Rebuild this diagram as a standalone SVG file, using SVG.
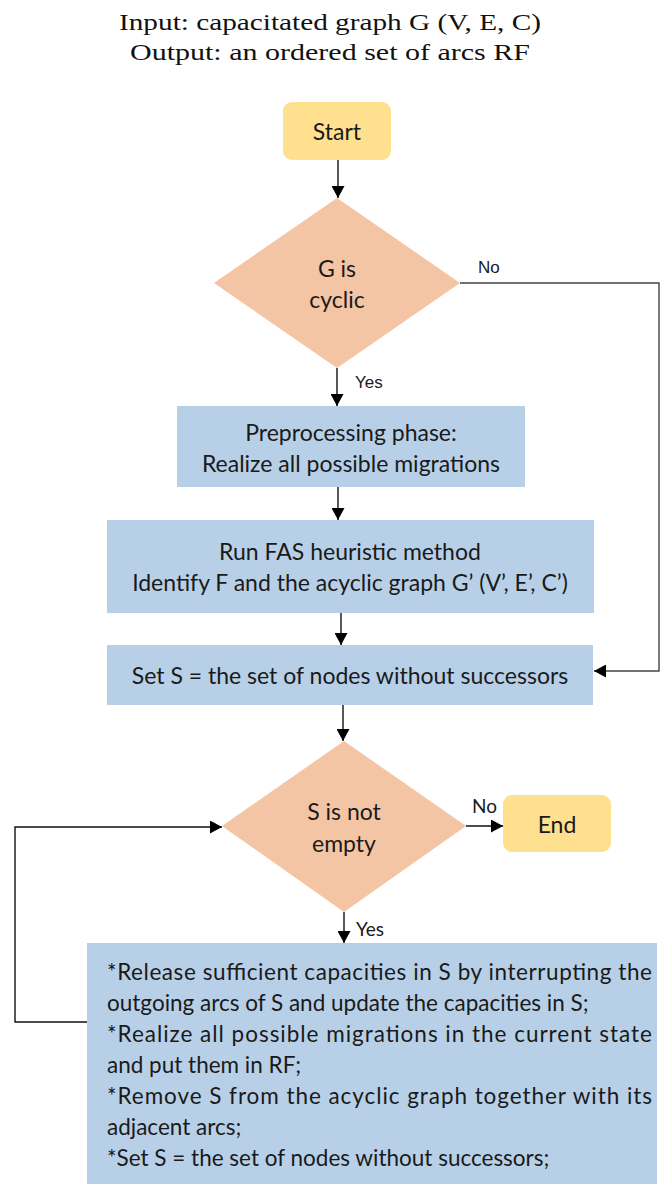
<svg xmlns="http://www.w3.org/2000/svg" width="664" height="1184" viewBox="0 0 664 1184">
<style>
.title{font-family:"Liberation Serif",serif;font-size:24px;fill:#111;text-anchor:middle}
.t{font-family:Lato,"Liberation Sans",sans-serif;font-size:23px;fill:#1a1a1a;text-anchor:middle}
.tl{font-family:Lato,"Liberation Sans",sans-serif;font-size:22.5px;fill:#1a1a1a}
.lbl{font-family:"Liberation Sans",Arial,sans-serif;font-size:17px;fill:#1a1a1a}
.lbl2{font-family:Lato,"Liberation Sans",sans-serif;font-size:19px;fill:#1a1a1a}
.term{fill:#FEE08F}
.dec{fill:#F4C5A4}
.proc{fill:#B7D0E8}
.c{fill:none;stroke:#111;stroke-width:1.4}
.cg{fill:none;stroke:#444;stroke-width:1.4}
</style>
<defs>
<marker id="ah" markerUnits="userSpaceOnUse" markerWidth="13" markerHeight="13" refX="12" refY="6.5" orient="auto">
<path d="M0,0 L12,6.5 L0,13 z" fill="#000"/>
</marker>
</defs>
<g id="title">
<text class="title" x="330" y="30" textLength="422" lengthAdjust="spacingAndGlyphs">Input: capacitated graph G (V, E, C)</text>
<text class="title" x="330" y="60" textLength="400" lengthAdjust="spacingAndGlyphs">Output: an ordered set of arcs RF</text>
</g>
<g id="start">
<rect class="term" x="283" y="102" width="108" height="58" rx="9"/>
<text class="t" x="337" y="140">Start</text>
</g>
<g id="d1">
<polygon class="dec" points="337,198 460,283 337,368 214,283"/>
<text class="t" x="337" y="277">G is</text>
<text class="t" x="337" y="308">cyclic</text>
</g>
<g id="box2">
<rect class="proc" x="177" y="406" width="348" height="81"/>
<text class="t" x="351" y="441">Preprocessing phase:</text>
<text class="t" x="351" y="472">Realize all possible migrations</text>
</g>
<g id="box3">
<rect class="proc" x="107" y="520" width="487" height="93"/>
<text class="t" x="350" y="560">Run FAS heuristic method</text>
<text class="t" x="350" y="591">Identify F and the acyclic graph G’ (V’, E’, C’)</text>
</g>
<g id="box4">
<rect class="proc" x="107" y="645" width="486" height="60"/>
<text class="t" x="350" y="684">Set S = the set of nodes without successors</text>
</g>
<g id="d2">
<polygon class="dec" points="344,741 466,826 344,912 222,826"/>
<text class="t" x="344" y="820">S is not</text>
<text class="t" x="344" y="852">empty</text>
</g>
<g id="end">
<rect class="term" x="503" y="795" width="108" height="57" rx="9"/>
<text class="t" x="557" y="833">End</text>
</g>
<g id="box5">
<rect class="proc" x="87" y="943" width="570" height="245"/>
<text class="tl" x="107" y="980" textLength="545" lengthAdjust="spacing">*Release sufficient capacities in S by interrupting the</text>
<text class="tl" x="107" y="1011">outgoing arcs of S and update the capacities in S;</text>
<text class="tl" x="107" y="1042" textLength="545" lengthAdjust="spacing">*Realize all possible migrations in the current state</text>
<text class="tl" x="107" y="1073">and put them in RF;</text>
<text class="tl" x="107" y="1104" textLength="545" lengthAdjust="spacing">*Remove S from the acyclic graph together with its</text>
<text class="tl" x="107" y="1135">adjacent arcs;</text>
<text class="tl" x="107" y="1166">*Set S = the set of nodes without successors;</text>
</g>
<g id="connectors">
<line class="c" x1="338" y1="160" x2="338" y2="198" marker-end="url(#ah)"/>
<line class="c" x1="337" y1="368" x2="337" y2="406" marker-end="url(#ah)"/>
<line class="c" x1="338" y1="487" x2="338" y2="520" marker-end="url(#ah)"/>
<line class="c" x1="341" y1="613" x2="341" y2="645" marker-end="url(#ah)"/>
<line class="c" x1="343" y1="705" x2="343" y2="741" marker-end="url(#ah)"/>
<path class="cg" d="M460,283 H659 V671 H594" marker-end="url(#ah)"/>
<line class="c" x1="466" y1="826" x2="503" y2="826" marker-end="url(#ah)"/>
<line class="c" x1="344" y1="912" x2="344" y2="943" marker-end="url(#ah)"/>
<path class="c" d="M87,1022 H15 V827 H222" marker-end="url(#ah)"/>
<text class="lbl" x="478" y="273">No</text>
<text class="lbl" x="355" y="388">Yes</text>
<text class="lbl2" x="472" y="813">No</text>
<text class="lbl2" x="356" y="936">Yes</text>
</g>
</svg>
